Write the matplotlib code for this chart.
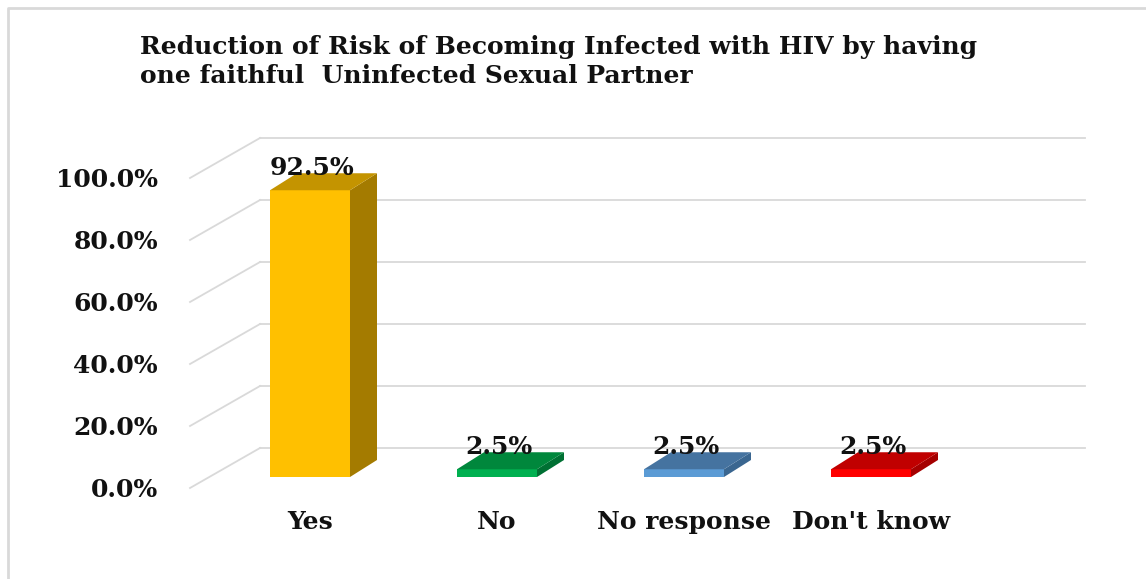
import matplotlib.pyplot as plt
from matplotlib.patches import Polygon
from matplotlib.lines import Line2D
from matplotlib.transforms import offset_copy

categories = ['Yes', 'No', 'No response', "Don't know"]
values = [92.5, 2.5, 2.5, 2.5]
yticks = [0, 20, 40, 60, 80, 100]
title = ('Reduction of Risk of Becoming Infected with HIV by having\n'
         'one faithful  Uninfected Sexual Partner')

front_cols = ['#FFC000', '#00B050', '#5B9BD5', '#FF0000']
top_cols = ['#C49400', '#00873C', '#4573A0', '#C00000']
side_cols = ['#A47B00', '#007033', '#3A6690', '#A50000']

plt.rcParams['font.family'] = ['DejaVu Serif']
plt.rcParams['font.weight'] = 'bold'

fig = plt.figure(figsize=(11.46, 5.79), dpi=100)
W, H = 1146, 579
# axes = front plane of the bars
ax = fig.add_axes([216.5 / W, 102 / H, 748 / W, 310 / H])
ax.set_xlim(-0.5, 3.5)
ax.set_ylim(0, 100)
ax.axis('off')

px_x = 748 / 4.0   # pixels per category
px_y = 310 / 100.0  # pixels per percent

grid_col = '#D9D9D9'
wall_l, wall_r = -0.54, 3.87
# back wall gridlines + side diagonals
back = offset_copy(ax.transData, fig=fig, x=51, y=29, units='dots')
for t in yticks:
    ax.plot([wall_l, wall_r], [t, t], color=grid_col, lw=1.3, transform=back,
            clip_on=False, zorder=1)
    ax.plot([wall_l - 19 / px_x, wall_l + 51 / px_x],
            [t - 11 / px_y, t + 29 / px_y],
            color=grid_col, lw=1.3, clip_on=False, zorder=1)
    lab = offset_copy(ax.transData, fig=fig, x=-19 - 32, y=-13, units='dots')
    ax.text(wall_l, t, f'{t:.1f}%', transform=lab, ha='right', va='center',
            fontsize=18, color='#111111')

# 3D-looking bars
w = 80 / px_x
ddx = 27 / px_x
ddy = 17 / px_y
for i, v in enumerate(values):
    x0, x1 = i - w / 2, i + w / 2
    ax.add_patch(Polygon([(x0, 0), (x1, 0), (x1, v), (x0, v)],
                         closed=True, fc=front_cols[i], ec='none', zorder=3,
                         clip_on=False))
    ax.add_patch(Polygon([(x1, 0), (x1 + ddx, ddy), (x1 + ddx, v + ddy), (x1, v)],
                         closed=True, fc=side_cols[i], ec='none', zorder=3,
                         clip_on=False))
    ax.add_patch(Polygon([(x0, v), (x1, v), (x1 + ddx, v + ddy), (x0 + ddx, v + ddy)],
                         closed=True, fc=top_cols[i], ec='none', zorder=3,
                         clip_on=False))
    dl = offset_copy(ax.transData, fig=fig, x=2, y=15, units='dots')
    ax.text(i, v, f'{v:.1f}%', transform=dl, ha='center', va='baseline',
            fontsize=18, color='#111111', zorder=4)
    cl = offset_copy(ax.transData, fig=fig, x=0, y=-45, units='dots')
    ax.text(i, 0, categories[i], transform=cl, ha='center', va='center',
            fontsize=18, color='#111111')

fig.text(140 / W, 1 - 35 / H, title, ha='left', va='top', fontsize=18,
         linespacing=1.25, color='#111111')

# chart border (top and left visible)
fig.add_artist(Line2D([8 / W, 8 / W, 1.0], [0.0, 1 - 8 / H, 1 - 8 / H],
                      transform=fig.transFigure, color=grid_col, lw=2))

fig.savefig('out.png', dpi=100)
